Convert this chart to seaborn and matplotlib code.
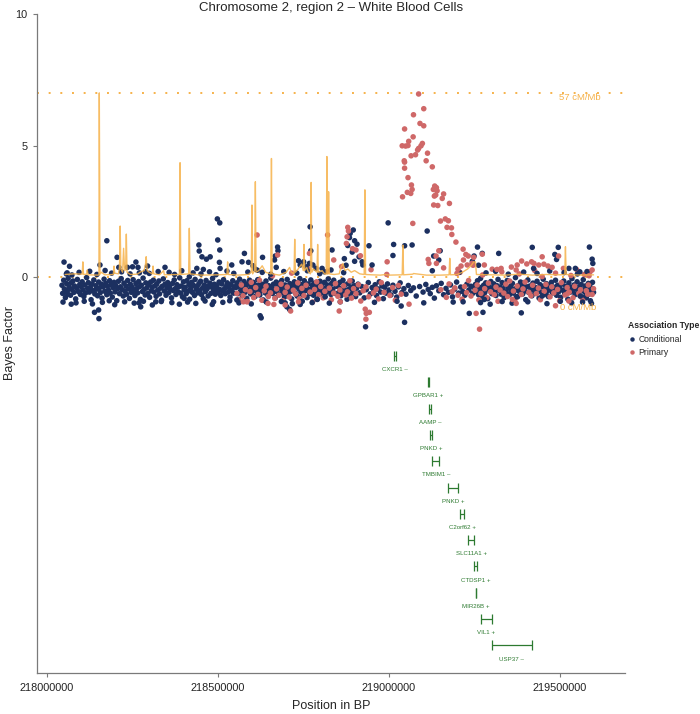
import matplotlib
matplotlib.use("Agg")
import matplotlib.pyplot as plt
import seaborn as sns
import pandas as pd

# Positions are kb offsets from 218,000,000
BASE = 218000000

# Conditional association - main band near zero
cond_band_kb = [
    45, 47, 50, 52, 55, 59, 61, 63, 66, 70, 72, 74, 77, 80, 82, 85, 88, 90, 93, 97,
    99, 101, 104, 106, 109, 112, 114, 117, 120, 122, 125, 128, 130, 133, 136, 138, 141, 144, 146, 149,
    152, 154, 157, 160, 162, 165, 168, 170, 173, 176, 178, 181, 184, 186, 189, 192, 194, 197, 200, 202,
    205, 208, 210, 213, 216, 218, 221, 224, 226, 229, 232, 234, 237, 240, 242, 245, 248, 250, 253, 256,
    258, 261, 264, 266, 269, 272, 274, 277, 280, 282, 285, 288, 290, 293, 296, 298, 301, 304, 306, 309,
    312, 314, 317, 320, 322, 325, 328, 330, 333, 336, 338, 341, 344, 346, 349, 352, 354, 357, 360, 362,
    365, 368, 370, 373, 376, 378, 381, 384, 386, 389, 392, 394, 397, 400, 402, 405, 408, 410, 413, 416,
    418, 421, 424, 426, 429, 432, 434, 437, 440, 442, 445, 448, 450, 453, 456, 458, 461, 464, 466, 469,
    472, 474, 477, 480, 482, 485, 488, 490, 493, 496, 498, 501, 504, 506, 509, 512, 514, 517, 520, 522,
    525, 528, 531, 533, 536, 539, 541, 544, 546, 549,
    553, 556, 558, 561, 564, 567, 569, 572, 575, 577, 580, 583, 585, 588, 591, 593, 596, 599, 601, 604,
    607, 609, 612, 615, 617, 620, 623, 625, 628, 631, 633, 636, 639, 641, 644, 647, 649, 652, 655, 657,
    660, 663, 665, 668, 671, 673, 676, 679, 681, 684, 687, 689, 692, 695, 697, 700, 703, 705, 708, 711,
    713, 716, 719, 721, 724, 727, 729, 732, 735, 737, 740, 743, 745, 748, 751, 753, 756, 759, 761, 764,
    767, 769, 772, 775, 777, 780, 783, 785, 788, 791, 793, 796, 799, 801, 804, 807, 809, 812, 815, 817,
    820, 823, 825, 828, 831, 833, 836, 839, 842, 846,
    851, 854, 857, 860, 863, 866, 869, 872, 875, 878, 881, 884, 887, 890, 893, 896, 899, 903, 906, 910,
    915, 921, 928, 934, 940, 946, 951, 956, 960, 964, 968, 972, 976, 980, 984, 988, 992, 996, 1001, 1006,
    1012, 1018, 1023, 1028, 1033, 1038, 1044, 1050, 1057, 1064, 1072, 1080, 1090, 1100, 1108, 1115, 1121, 1127, 1133, 1139,
    1146, 1153, 1160, 1167, 1174, 1180, 1186, 1192, 1198, 1204, 1210, 1216, 1222, 1228, 1234, 1240, 1245, 1250,
    1253, 1256, 1259, 1262, 1265, 1268, 1271, 1274, 1277, 1280, 1283, 1286, 1289, 1292, 1295, 1298, 1301, 1304, 1307, 1310,
    1313, 1316, 1319, 1322, 1325, 1328, 1331, 1334, 1337, 1340, 1343, 1346, 1349, 1352, 1355, 1358, 1361, 1364, 1367, 1370,
    1373, 1376, 1379, 1382, 1385, 1388, 1391, 1394, 1397, 1400, 1403, 1406, 1409, 1412, 1415, 1418, 1421, 1424, 1427, 1430,
    1433, 1436, 1439, 1442, 1445, 1448, 1451, 1454, 1457, 1460, 1463, 1466, 1469, 1472, 1475, 1478, 1481, 1484, 1487, 1490,
    1493, 1496, 1499, 1502, 1505, 1508, 1511, 1514, 1517, 1520, 1523, 1526, 1529, 1532, 1535, 1538, 1541, 1544, 1547, 1550,
    1553, 1556, 1559, 1562, 1565, 1568, 1571, 1574, 1577, 1580, 1583, 1586, 1589, 1592, 1595, 1598,
]
cond_band_bf = [
    -0.31, -0.62, -0.12, -0.45, -0.78, -0.25, -0.51, -0.05, -0.38, -0.69, -0.22, -0.47, -0.15, -0.58, -0.34, -0.83, -0.41, -0.09, -0.55, -0.28,
    -0.66, -0.36, -0.18, -0.49, -0.74, -0.30, -0.60, -0.02, -0.43, -0.21, -0.57, -0.39, -0.86, -0.26, -0.52, -0.11, -0.64, -0.33, -0.46, -0.71,
    -0.19, -0.42, -0.59, -0.27, -0.80, -0.37, -0.08, -0.54, -0.24, -0.67, -0.35, -0.50, -0.14, -0.61, -0.29, -0.76, -0.40, -0.20, -0.56, -0.32,
    -0.90, -0.44, -0.16, -0.63, -0.37, -0.06, -0.48, -0.72, -0.23, -0.53, -0.34, -0.65, -0.13, -0.45, -0.81, -0.28, -0.58, -0.39, -0.10, -0.50,
    -0.70, -0.25, -0.43, -0.60, -0.17, -0.36, -0.85, -0.31, -0.55, -0.04, -0.47, -0.68, -0.22, -0.41, -0.62, -0.30, -0.77, -0.19, -0.52, -0.38,
    -0.12, -0.57, -0.33, -0.73, -0.26, -0.49, -0.15, -0.64, -0.42, -0.88, -0.35, -0.07, -0.53, -0.27, -0.69, -0.40, -0.21, -0.59, -0.32, -0.47,
    -0.79, -0.24, -0.51, -0.11, -0.44, -0.66, -0.29, -0.56, -0.37, -0.03, -0.61, -0.34, -0.75, -0.18, -0.48, -0.39, -0.63, -0.14, -0.54, -0.28,
    -0.84, -0.43, -0.20, -0.58, -0.31, -0.70, -0.09, -0.46, -0.36, -0.60, -0.25, -0.52, -0.16, -0.67, -0.41, -0.82, -0.30, -0.55, -0.13, -0.45,
    -0.72, -0.35, -0.23, -0.62, -0.38, -0.05, -0.50, -0.27, -0.65, -0.42, -0.31, -0.58, -0.19, -0.47, -0.70, -0.26, -0.53, -0.10, -0.44, -0.63,
    -0.35, -0.22, -0.57, -0.40, -0.76, -0.29, -0.51, -0.14, -0.61, -0.37,
    -0.40, -0.22, -0.63, -0.35, -0.08, -0.52, -0.29, -0.71, -0.44, -0.17, -0.58, -0.33, -0.81, -0.26, -0.49, -0.12, -0.64, -0.37, -0.55, -0.20,
    -0.46, -0.74, -0.31, -0.57, -0.10, -0.42, -0.68, -0.24, -0.51, -0.36, -0.87, -0.28, -0.60, -0.15, -0.45, -0.70, -0.33, -0.53, -0.04, -0.39,
    -0.62, -0.27, -0.48, -0.79, -0.19, -0.56, -0.34, -0.66, -0.23, -0.43, -0.13, -0.59, -0.38, -0.76, -0.30, -0.50, -0.09, -0.65, -0.41, -0.25,
    -0.54, -0.83, -0.32, -0.47, -0.18, -0.61, -0.36, -0.72, -0.21, -0.44, -0.06, -0.57, -0.29, -0.67, -0.40, -0.14, -0.52, -0.35, -0.78, -0.26,
    -0.48, -0.63, -0.11, -0.42, -0.31, -0.69, -0.23, -0.55, -0.37, -0.85, -0.28, -0.46, -0.16, -0.60, -0.34, -0.50, -0.73, -0.20, -0.43, -0.58,
    -0.30, -0.07, -0.53, -0.39, -0.66, -0.24, -0.47, -0.12, -0.62, -0.35,
    -0.35, -0.58, -0.20, -0.71, -0.43, -0.12, -0.62, -0.30, -0.50, -0.84, -0.25, -0.46, -0.66, -0.38, -0.15, -0.55, -0.33, -0.74, -0.42, -0.27,
    -0.60, -0.36, -0.79, -0.48, -0.21, -0.64, -0.40, -0.53, -0.29, -0.70, -0.45, -0.18, -0.57, -0.34, -0.82, -0.39, -0.61, -0.26, -0.49, -0.68,
    -0.31, -0.54, -0.76, -0.37, -0.22, -0.59, -0.44, -0.65, -0.32, -0.51, -0.41, -0.72, -0.36, -0.57, -0.28, -0.47, -0.63, -0.39, -0.80, -0.33,
    -0.52, -0.24, -0.67, -0.43, -0.58, -0.30, -0.75, -0.46, -0.19, -0.61, -0.38, -0.55, -0.69, -0.27, -0.49, -0.35, -0.62, -0.41,
    -0.28, -0.55, -0.14, -0.67, -0.39, -0.05, -0.48, -0.73, -0.31, -0.60, -0.22, -0.44, -0.82, -0.35, -0.52, -0.17, -0.63, -0.40, -0.26, -0.57,
    -0.70, -0.33, -0.09, -0.50, -0.38, -0.65, -0.21, -0.46, -0.78, -0.30, -0.58, -0.13, -0.42, -0.68, -0.36, -0.54, -0.24, -0.61, -0.45, -0.02,
    -0.49, -0.75, -0.32, -0.56, -0.19, -0.41, -0.64, -0.27, -0.53, -0.86, -0.37, -0.11, -0.59, -0.34, -0.47, -0.71, -0.23, -0.51, -0.39, -0.62,
    -0.16, -0.44, -0.80, -0.29, -0.57, -0.36, -0.08, -0.66, -0.42, -0.25, -0.54, -0.74, -0.33, -0.48, -0.20, -0.60, -0.38, -0.52, -0.12, -0.69,
    -0.31, -0.56, -0.43, -0.77, -0.27, -0.50, -0.15, -0.63, -0.35, -0.46, -0.84, -0.22, -0.58, -0.40, -0.06, -0.53, -0.30, -0.67, -0.45, -0.18,
    -0.61, -0.37, -0.72, -0.28, -0.49, -0.10, -0.55, -0.34, -0.79, -0.42, -0.24, -0.64, -0.39, -0.51, -0.20, -0.58,
]

# Conditional association - ragged upper / lower edges of the band (kb, Bayes factor)
cond_edge = [
    (48, -0.95), (58, 0.12), (86, -0.98), (95, 0.18), (110, -0.92), (126, 0.22), (134, -1.02), (147, 0.10),
    (163, -0.96), (171, 0.25), (183, -0.90), (190, 0.15), (199, -1.05), (219, 0.20), (228, -0.94), (244, 0.12),
    (256, -0.99), (283, -0.92), (300, 0.14), (309, -1.06), (326, 0.21), (335, -0.93), (358, 0.18), (366, -0.97),
    (374, 0.10), (395, 0.24), (412, -0.95), (428, 0.16), (436, -1.00), (451, 0.12), (463, -0.91), (476, 0.20),
    (484, -1.04), (495, 0.09), (515, -0.96), (527, 0.23), (535, -0.90), (547, 0.14), (562, -0.98), (588, 0.19),
    (598, -1.02), (616, 0.26), (642, -0.95), (655, 0.11), (686, -0.93), (693, 0.21), (718, -1.01), (731, 0.15),
    (747, -0.92), (762, 0.24), (776, -0.97), (798, 0.13), (812, 0.20), (826, -0.99), (858, -0.94), (868, 0.17),
    (958, -0.96), (1024, -0.92), (1102, -0.98), (1188, -0.95), (1206, 0.18), (1268, -0.97), (1284, 0.16), (1296, -1.03),
    (1312, 0.22), (1331, -0.93), (1349, 0.11), (1360, -0.99), (1394, 0.19), (1406, -0.94), (1433, 0.14), (1462, -1.01),
    (1470, 0.23), (1501, -0.92), (1512, 0.17), (1534, -0.98), (1551, 0.12), (1566, -0.95), (1579, 0.21), (1592, -1.00),
]

# Conditional association - points away from the band (kb, Bayes factor)
cond_out = [
    (51, 0.57), (67, 0.41), (60, 0.16), (74, 0.08), (176, 1.38), (206, 0.75), (211, 0.37), (156, 0.46),
    (261, 0.57), (251, 0.39), (267, 0.37), (236, 0.37), (295, 0.42), (289, 0.20), (271, 0.16), (346, 0.37),
    (72, -1.03), (55, -0.56), (62, -0.65), (140, -1.34), (152, -1.25), (153, -1.58), (270, -0.98), (275, -1.13),
    (319, -0.94), (388, -1.03), (402, -0.81), (499, 2.21), (506, 2.06), (500, 1.41), (445, 1.22), (446, 0.99),
    (454, 0.77), (467, 0.68), (478, 0.77), (506, 1.03), (505, 0.56), (507, 0.33), (439, 0.33), (458, 0.29),
    (417, 0.01), (541, 0.46), (578, 0.90), (571, 0.58), (590, 0.56), (603, 0.43), (610, 0.30), (631, 0.75),
    (630, 0.18), (675, 1.14), (676, 1.00), (668, 0.80), (666, 0.65), (671, 0.37), (770, 1.91), (772, 1.00),
    (736, 0.62), (751, 0.58), (741, 0.46), (758, 0.39), (768, 0.52), (778, 0.46), (787, 0.33), (834, 1.03),
    (831, 0.27), (805, 0.33), (488, -0.94), (556, -0.87), (624, -1.47), (627, -1.55), (697, -0.98), (702, -1.13),
    (710, -1.23), (741, -1.04), (790, -0.84), (814, -0.75), (896, 1.79), (885, 1.50), (880, 1.20), (893, 0.95),
    (900, 0.60), (998, 2.06), (1068, 1.22), (1112, 1.75), (1046, 1.19), (942, 1.19), (1259, 1.14), (1249, 0.80),
    (1012, 0.82), (1131, 0.80), (1150, 1.00), (1127, 0.24), (1046, -1.72), (932, -1.89), (1036, -1.10), (1217, -0.94),
    (1235, -1.38), (1262, 0.45), (1321, 0.90), (1419, 1.13), (1495, 1.13), (1586, 1.14), (1485, 0.86), (1490, 0.67),
    (1594, 0.68), (1596, 0.52), (1423, 0.33), (1526, 0.33), (1545, 0.33), (1558, 0.20), (1244, 0.60), (1275, -1.34),
    (1387, -1.36), (1279, -0.85), (1560, -0.72), (1575, -0.72), (1589, -0.90), (1373, -0.75), (1448, -0.72),
    (887, 1.66), (900, 1.38), (907, 1.25), (913, 0.77), (922, 0.58), (924, 0.46), (951, 0.46), (870, 0.70),
    (875, 0.45), (1014, 1.24), (1146, 0.65), (1273, 0.90),
]

# Primary association - band points
prim_band_kb = [
    556, 562, 569, 574, 581, 587, 594, 598, 605, 611, 618, 622, 629, 636, 641, 648, 654, 660, 667, 672,
    679, 685, 690, 697, 703, 709, 716, 721, 728, 734, 739, 746, 752, 758, 765, 770, 777, 783, 789, 795,
    801, 808, 813, 820, 826, 832, 839, 844, 851, 857, 862, 868, 874, 879, 886, 891, 897, 904, 911, 918,
    925, 933, 941, 948, 955, 963, 970, 978, 986, 994, 1003, 1011, 1019, 1028, 1036, 1152, 1160, 1168, 1176, 1185,
    1193, 1202, 1208, 1214, 1221, 1227, 1233, 1240, 1246, 1252, 1258, 1263, 1269, 1274, 1280, 1286, 1291, 1297, 1302, 1308,
    1313, 1319, 1325, 1330, 1336, 1342, 1347, 1353, 1358, 1364, 1370, 1375, 1381, 1387, 1392, 1398, 1403, 1409, 1415, 1420,
    1426, 1431, 1437, 1443, 1448, 1454, 1459, 1465, 1471, 1476, 1482, 1487, 1493, 1499, 1504, 1510, 1515, 1521, 1527, 1532,
    1538, 1543, 1549, 1555, 1560, 1566, 1571, 1577, 1583, 1588, 1594, 1598,
]
prim_band_bf = [
    -0.62, -0.85, -0.30, -0.71, -0.48, -0.93, -0.55, -0.20, -0.78, -0.40, -0.66, -0.12, -0.88, -0.52, -0.35, -0.74, -0.60, 0.05, -0.81, -0.45,
    -0.69, -0.27, -0.90, -0.58, -0.38, -0.76, 0.15, -0.50, -0.64, -0.22, -0.83, -0.43, -0.70, -0.31, 0.32, -0.57, -0.95, -0.47, -0.18, -0.67,
    -0.36, -0.79, -0.54, 0.22, -0.42, -0.86, -0.61, -0.25, -0.73, -0.49, 0.40, -0.33, -0.68, -0.56, -0.14, -0.80, -0.44, -0.63, -0.29, -0.91,
    -0.52, -0.37, -0.75, 0.28, -0.60, -0.46, -0.83, -0.21, -0.58, 0.10, -0.70, -0.40, -0.88, -0.32, -0.65, -0.48, 0.35, -0.77, -0.26, -0.55,
    -0.41, -0.69, 0.18, -0.84, -0.36, -0.59, -0.13, -0.72, 0.45, -0.50, -0.30, -0.87, -0.62, 0.08, -0.44, -0.78, -0.23, -0.56, 0.30, -0.67,
    -0.38, -0.92, -0.49, 0.20, -0.61, -0.27, -0.74, -0.15, 0.38, -0.53, -0.82, -0.34, 0.12, -0.66, -0.45, -0.19, 0.50, -0.58, -0.71, -0.31,
    0.25, -0.63, -0.42, -0.86, 0.02, -0.54, -0.28, 0.42, -0.75, -0.37, -0.60, 0.15, -0.47, -0.90, -0.21, 0.33, -0.68, -0.40, -0.57, 0.06,
    -0.79, -0.35, 0.28, -0.62, -0.48, -0.85, 0.10, -0.52, -0.30, 0.20, -0.66, -0.44,
]

# Primary association - peak and other scattered points (kb, Bayes factor)
prim_out = [
    (1087, 6.96), (1102, 6.40), (1072, 6.17), (1091, 5.84), (1102, 5.75), (1046, 5.63), (1071, 5.33), (1058, 5.16),
    (1039, 4.99), (1049, 4.98), (1056, 5.00), (1098, 5.08), (1094, 4.99), (1087, 4.89), (1084, 4.83), (1113, 4.71),
    (1078, 4.65), (1065, 4.61), (1045, 4.42), (1046, 4.37), (1109, 4.42), (1127, 4.19), (1046, 4.14), (1056, 3.78),
    (1066, 3.50), (1068, 3.33), (1054, 3.22), (1040, 3.05), (1064, 3.18), (1134, 3.46), (1139, 3.40), (1130, 3.33),
    (1141, 3.28), (1137, 3.12), (1160, 3.16), (1133, 3.08), (1156, 2.99), (1177, 2.80), (1131, 2.74), (1143, 2.72),
    (1151, 2.13), (1165, 2.21), (1174, 2.14), (1170, 1.89), (1183, 1.87), (1184, 1.62), (1196, 1.33), (1070, 2.04),
    (1217, 1.06), (1225, 0.86), (1232, 0.80), (1218, 0.65), (1248, 0.75), (1211, 0.42), (1199, 0.14), (1146, 1.00),
    (1138, 0.80), (1139, 0.52),
    (880, 1.89), (882, 1.75), (876, 1.28), (894, 1.08), (904, 1.03), (917, 0.81), (878, 1.53),
    (615, 1.60), (768, 0.90), (821, 1.60), (675, 0.84), (839, 0.65), (995, 0.58),
    (647, -1.00), (664, -1.04), (585, -0.94), (575, -0.94), (713, -1.29), (697, -1.06), (736, -0.94), (933, -1.60),
    (943, -1.34), (931, -1.22), (858, -0.94), (855, -1.29), (1059, -1.03), (1255, -1.38), (1265, -1.98), (934, -1.38),
    (1273, 0.87), (1279, 0.46), (1388, 0.61), (1417, 0.58), (1424, 0.52), (1438, 0.46), (1453, 0.49), (1477, 0.37),
    (1375, 0.46), (1372, 0.27), (1316, 0.29), (1328, 0.33), (1496, 0.80), (1448, 0.77), (1594, 0.27), (1585, 0.05),
    (1361, -0.85), (1372, -1.00), (1487, -1.09), (1526, -0.91), (1523, -0.62), (1581, -0.65),
    (1117, 0.52), (1115, 0.67), (1202, 0.30), (1229, 0.46), (1243, 0.52),
]

# Recombination rate (kb, cM/Mb)
recomb = [
    (54, 0.8), (80, 1.0), (104, 0.9), (106, 4.7), (108, 0.8), (117, 0.9), (119, 2.2), (121, 0.7),
    (151, 0.6), (153, 0.8), (154, 57.0), (156, 0.9), (160, 1.5), (170, 0.7), (195, 0.8), (197, 3.4),
    (199, 1.2), (210, 1.0), (213, 3.0), (215, 15.8), (217, 2.5), (222, 1.5), (225, 8.9), (228, 2.0),
    (231, 2.5), (233, 13.3), (235, 1.5), (245, 0.8), (265, 0.9), (275, 1.6), (285, 2.0), (289, 4.0),
    (291, 6.3), (294, 2.0), (300, 1.5), (309, 1.0), (311, 3.4), (313, 1.0), (330, 0.7), (342, 2.0),
    (344, 0.7), (388, 0.8), (390, 35.4), (392, 0.8), (415, 1.0), (417, 15.1), (419, 1.0), (450, 0.6),
    (500, 0.7), (527, 0.8), (529, 4.7), (531, 0.8), (560, 0.6), (590, 0.8), (598, 1.5), (600, 22.3),
    (602, 1.0), (608, 2.0), (610, 29.5), (612, 1.5), (620, 2.0), (630, 3.5), (640, 1.5), (655, 1.0),
    (657, 36.7), (659, 1.0), (680, 0.6), (700, 1.5), (710, 3.0), (715, 1.5), (723, 1.0), (725, 11.7),
    (727, 1.5), (735, 2.5), (745, 4.0), (750, 2.0), (752, 10.1), (754, 2.0), (760, 3.0), (765, 1.5),
    (771, 1.0), (773, 29.3), (775, 1.5), (780, 2.5), (790, 1.5), (792, 10.1), (794, 1.5), (805, 2.0),
    (812, 1.0), (817, 0.9), (819, 37.3), (821, 1.0), (822, 0.9), (824, 26.4), (826, 1.0), (840, 0.8),
    (855, 1.0), (860, 3.0), (866, 4.2), (872, 2.0), (880, 2.5), (890, 1.5), (900, 2.0), (915, 1.0),
    (928, 0.8), (930, 27.0), (932, 0.8), (950, 0.7), (975, 0.6), (990, 0.8), (1000, 0.6), (1039, 0.7),
    (1041, 9.9), (1043, 0.7), (1070, 0.9), (1072, 1.1), (1110, 0.6), (1150, 0.6), (1176, 0.7), (1178, 5.8),
    (1180, 0.7), (1200, 0.8), (1215, 1.5), (1230, 2.5), (1240, 3.5), (1248, 4.7), (1253, 4.7), (1256, 0.8),
    (1300, 0.7), (1340, 0.6), (1380, 0.9), (1420, 0.6), (1460, 0.8), (1500, 0.7), (1514, 0.8), (1516, 9.4),
    (1518, 0.8), (1560, 0.6), (1598, 0.7),
]
RECOMB_MAX = 57
RECOMB_TOP = 7

# Genes
gene_names = ["CXCR1", "GPBAR1", "AAMP", "PNKD", "TMBIM1", "PNKD", "C2orf62",
              "SLC11A1", "CTDSP1", "MIR26B", "VIL1", "USP37"]
gene_strand = ["\u2013", "+", "\u2013", "+", "\u2013", "+", "+", "+", "+", "+", "+", "\u2013"]
gene_start_kb = [1016, 1113, 1116, 1121, 1126, 1174, 1209, 1231, 1248, 1254, 1268, 1301]
gene_end_kb = [1020, 1117, 1124, 1126, 1148, 1201, 1221, 1250, 1258, 1256, 1301, 1418]

x_ticks = [218000000, 218500000, 219000000, 219500000]
y_ticks = [0, 5, 10]

NAVY = "#1c3060"
SALMON = "#cf6868"
ORANGE = "#f6b24a"
GREEN = "#2d7a30"
AXIS_GREY = "#7a7a7a"

# Build table; drawing order: conditional band, primary band, then the scattered points
rows = []
for kb, bf in zip(cond_band_kb, cond_band_bf):
    rows.append((BASE + kb * 1000, bf, "Conditional"))
for kb, bf in zip(prim_band_kb, prim_band_bf):
    rows.append((BASE + kb * 1000, bf, "Primary"))
for kb, bf in cond_edge:
    rows.append((BASE + kb * 1000, bf, "Conditional"))
for kb, bf in cond_out:
    rows.append((BASE + kb * 1000, bf, "Conditional"))
for kb, bf in prim_out:
    rows.append((BASE + kb * 1000, bf, "Primary"))
df = pd.DataFrame(rows, columns=["pos", "bf", "Association Type"])

rec_df = pd.DataFrame(recomb, columns=["kb", "rate"])
rec_df["pos"] = BASE + rec_df["kb"] * 1000
rec_df["y"] = rec_df["rate"] / RECOMB_MAX * RECOMB_TOP

sns.set_style("white")
plt.rcParams["font.family"] = ["Liberation Sans", "DejaVu Sans"]

fig = plt.figure(figsize=(7, 7.14), dpi=100)
ax = fig.add_axes([37 / 700, 1 - 673 / 714, 588 / 700, 659 / 714])

# reference lines for recombination scale
ax.axhline(RECOMB_TOP, color=ORANGE, lw=1.4, ls=(0, (1, 5)), zorder=1)
ax.axhline(0, color=ORANGE, lw=1.4, ls=(0, (1, 5)), zorder=1)

sns.scatterplot(
    data=df, x="pos", y="bf", hue="Association Type",
    hue_order=["Conditional", "Primary"],
    palette={"Conditional": NAVY, "Primary": SALMON},
    s=16, linewidth=0, ax=ax, zorder=2,
)

sns.lineplot(data=rec_df, x="pos", y="y", color=ORANGE, lw=1.0, alpha=0.85,
             estimator=None, sort=False, ax=ax, zorder=3)

ax.text(BASE + 1618 * 1000, RECOMB_TOP - 0.17, "57 cM/Mb", color=ORANGE,
        fontsize=6.8, ha="right", va="center")
ax.text(BASE + 1606 * 1000, -1.17, "0 cM/Mb", color=ORANGE,
        fontsize=6.8, ha="right", va="center")

# gene track
for i in range(len(gene_names)):
    y = -3 - i
    s = BASE + gene_start_kb[i] * 1000
    e = BASE + gene_end_kb[i] * 1000
    ax.hlines(y, s, e, color=GREEN, lw=0.9)
    ax.vlines([s, e], y - 0.19, y + 0.19, color=GREEN, lw=0.9)
    ax.text((s + e) / 2, y - 0.52, f"{gene_names[i]} {gene_strand[i]}",
            color=GREEN, fontsize=4.4, ha="center", va="center")

ax.set_xlim(217972000, 219690000)
ax.set_ylim(-15.05, 10)
ax.set_xticks(x_ticks)
ax.set_xticklabels([str(t) for t in x_ticks])
ax.set_yticks(y_ticks)
ax.set_yticklabels([str(t) for t in y_ticks])

for side in ["top", "right"]:
    ax.spines[side].set_visible(False)
for side in ["left", "bottom"]:
    ax.spines[side].set_color(AXIS_GREY)
    ax.spines[side].set_linewidth(0.9)
ax.tick_params(axis="both", which="both", direction="out", length=3, width=0.8,
               color=AXIS_GREY, labelsize=7.8, labelcolor="#222222", pad=4,
               left=True, bottom=True)

ax.set_xlabel("Position in BP", fontsize=9, labelpad=5)
ax.set_ylabel("")
fig.text(10 / 700, 1 - 343 / 714, "Bayes Factor", rotation=90, fontsize=9,
         ha="center", va="center")
fig.text(331 / 700, 1 - 8 / 714, "Chromosome 2, region 2 \u2013 White Blood Cells",
         fontsize=9.5, ha="center", va="center")

sns.move_legend(ax, "upper left", bbox_to_anchor=(628 / 700, 1 - 321 / 714),
                bbox_transform=fig.transFigure, frameon=False,
                title="Association Type", fontsize=6.2, title_fontsize=6.2,
                markerscale=0.8, handletextpad=0.2, labelspacing=0.55,
                borderpad=0, borderaxespad=0, alignment="left",
                handlelength=1.0)
ax.get_legend().get_title().set_fontweight("bold")

fig.savefig("out.png", dpi=100)
